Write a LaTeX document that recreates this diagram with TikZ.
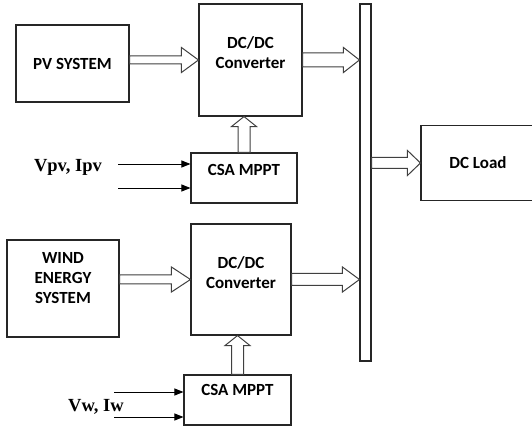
\documentclass[tikz,border=0pt]{standalone}
\usepackage{fontspec}
\setsansfont{Carlito}
\setmainfont{Liberation Serif}
\usetikzlibrary{arrows.meta,calc}

\newcommand{\lbl}{\sffamily\bfseries\fontsize{17}{20}\selectfont}
\newcommand{\sig}{\rmfamily\bfseries\fontsize{18.5}{22}\selectfont}

% hollow block arrow: half shaft, head length, from, to
\newcommand{\blockarrow}[4]{%
  \draw[barrow] let \p1=(#3), \p2=(#4), \n1={atan2(\y2-\y1,\x2-\x1)}, \n2={veclen(\x2-\x1,\y2-\y1)} in
    [shift={(\p1)}, rotate=\n1]
    (0pt,-#1) -- ({\n2-#2},-#1) -- ({\n2-#2},-12.5pt) -- (\n2,0pt)
    -- ({\n2-#2},12.5pt) -- ({\n2-#2},#1) -- (0pt,#1) -- cycle;}

\tikzset{
  block/.style={draw=black!85, line width=1.1pt, inner sep=0pt, font=\lbl, align=center},
  inner/.style={anchor=north, font=\lbl, align=center},
  barrow/.style={draw=black!75, line width=1pt, fill=white},
  sigline/.style={line width=0.9pt, -{Triangle[length=9pt,width=7pt]}}
}

\begin{document}
\begin{tikzpicture}[x=1pt, y=-1pt]
 \useasboundingbox (0,0) rectangle (532,427);
 % blocks
 \node (pv) [block, minimum width=113pt, minimum height=77pt] at (72.5,63.5) {PV SYSTEM};
 \node (conv1) [block, minimum width=103pt, minimum height=112pt,
   label={[inner, inner sep=33pt]north:{DC/DC\\Converter}}] at (250.5,60) {};
 \node (csa1) [block, minimum width=106pt, minimum height=50pt,
   label={[inner, inner sep=11.5pt]north:CSA MPPT}] at (244,178) {};
 \node (bus) [block, minimum width=11pt, minimum height=357pt] at (365.5,182.5) {};
 \node (load) [block, minimum width=114pt, minimum height=75pt] at (478,163) {DC Load};
 \node (wind) [block, minimum width=112pt, minimum height=97pt,
   label={[inner, inner sep=12.5pt]north:{WIND\\ENERGY\\SYSTEM}}] at (63,288.5) {};
 \node (conv2) [block, minimum width=100pt, minimum height=111pt,
   label={[inner, inner sep=32.5pt]north:{DC/DC\\Converter}}] at (241,279.5) {};
 \node (csa2) [block, minimum width=107pt, minimum height=50pt,
   label={[inner, inner sep=9.5pt]north:CSA MPPT}] at (237.5,400) {};

 % measured inputs
 \node (vpv) [font=\sig] at (68,167) {Vpv, Ipv};
 \node (vw) [font=\sig] at (96,407) {Vw, Iw};
 \coordinate (pin1) at (118,164);
 \coordinate (pin2) at (118,188);
 \coordinate (win1) at (114,392);
 \coordinate (win2) at (114,417);
 \draw[sigline] (pin1) -- (pin1 -| csa1.west);
 \draw[sigline] (pin2) -- (pin2 -| csa1.west);
 \draw[sigline] (win1) -- (win1 -| csa2.west);
 \draw[sigline] (win2) -- (win2 -| csa2.west);

 % power flow
 \blockarrow{4pt}{17pt}{pv.east |- conv1.west}{conv1.west}
 \blockarrow{7pt}{16pt}{conv1.east}{conv1.east -| bus.west}
 \blockarrow{6pt}{10pt}{csa1.north}{csa1.north |- conv1.south}
 \blockarrow{5.5pt}{13pt}{load.west -| bus.east}{load.west}
 \blockarrow{4.5pt}{19pt}{wind.east |- conv2.west}{conv2.west}
 \blockarrow{6pt}{17pt}{conv2.east}{conv2.east -| bus.west}
 \blockarrow{6pt}{10pt}{csa2.north}{csa2.north |- conv2.south}
\end{tikzpicture}
\end{document}
